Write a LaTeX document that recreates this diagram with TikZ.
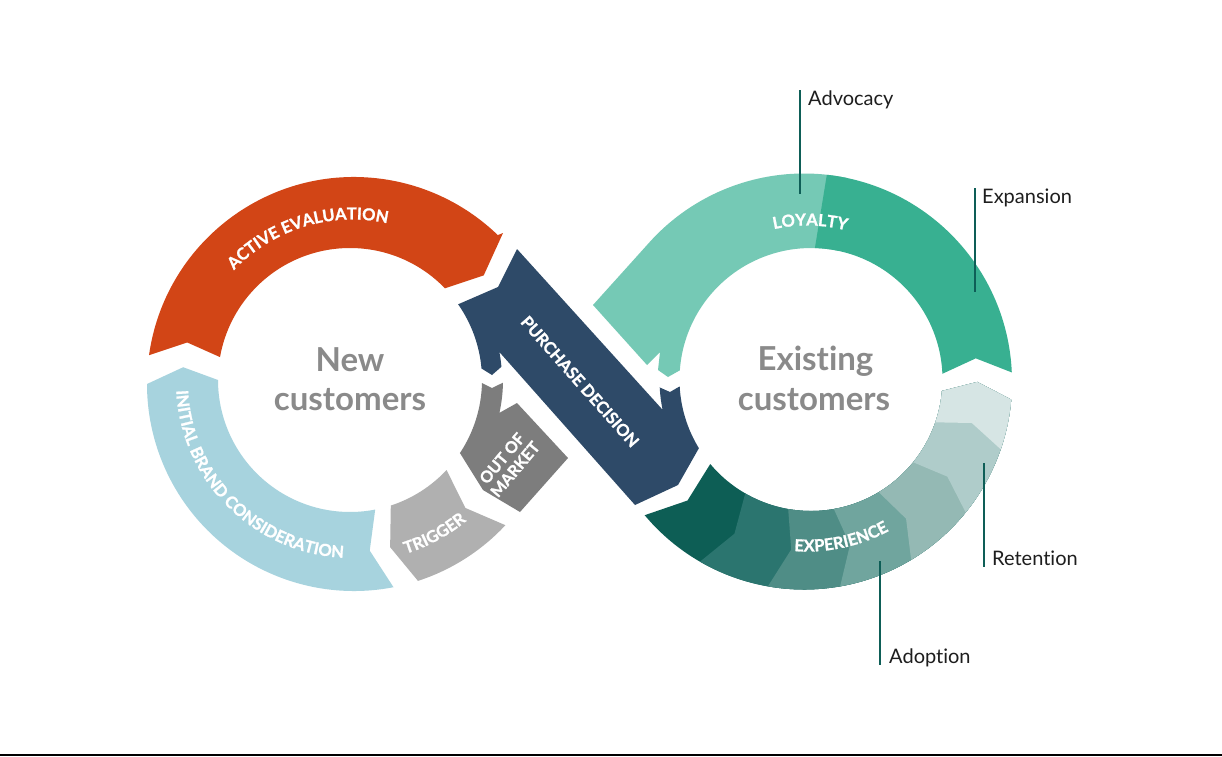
\documentclass[tikz,border=0pt]{standalone}
\usepackage{fontspec}
\setmainfont{Lato}[Ligatures=NoCommon]
\newfontfamily\labfont{Lato}[Ligatures=NoCommon,BoldFeatures={FakeBold=1.2}]
\usetikzlibrary{calc,decorations.text}
\definecolor{cOrange}{RGB}{210,69,22}
\definecolor{cBlue}{RGB}{167,211,222}
\definecolor{cTrig}{RGB}{176,176,176}
\definecolor{cOOM}{RGB}{125,125,125}
\definecolor{cNavy}{RGB}{46,74,104}
\definecolor{cLoy}{RGB}{117,201,181}
\definecolor{cExp}{RGB}{56,176,145}
\definecolor{eA}{RGB}{13,94,85}
\definecolor{eB}{RGB}{43,117,111}
\definecolor{eC}{RGB}{79,141,134}
\definecolor{eD}{RGB}{112,165,158}
\definecolor{eE}{RGB}{148,185,180}
\definecolor{eF}{RGB}{175,204,202}
\definecolor{eG}{RGB}{214,229,228}
\definecolor{cLine}{RGB}{14,94,87}
\definecolor{cCenter}{RGB}{138,138,138}
\definecolor{cLabel}{RGB}{30,30,30}
\newcommand\seglabfont{\labfont\bfseries\fontsize{16.5}{16.5}\selectfont}
% left loop segment: colour, start, end, tip offset, notch offset
\newcommand\lseg[5]{\fill[#1] ($(CLo)+(#2:207)$) arc[start angle=#2,end angle=#3,radius=207] -- ($(CLm)+({#3+#4}:169.5)$) -- ($(CLi)+(#3:132)$) arc[start angle=#3,end angle=#2,radius=132] -- ($(CLm)+({#2+#5}:169.5)$) -- cycle;}
% right loop segment
\newcommand\rseg[5]{\fill[#1] ($(CRo)+(#2:208)$) arc[start angle=#2,end angle=#3,radius=208] -- ($(CRm)+({#3+#4}:169.75)$) -- ($(CRi)+(#3:131.5)$) arc[start angle=#3,end angle=#2,radius=131.5] -- ($(CRm)+({#2+#5}:169.75)$) -- cycle;}
\begin{document}
\begin{tikzpicture}[x=1pt,y=1pt,
  seglabel/.style={text=white,font=\seglabfont,inner sep=0pt},
  centertext/.style={text=cCenter,font=\bfseries\fontsize{33}{33}\selectfont,inner sep=0pt,anchor=base},
  calltext/.style={text=cLabel,font=\fontsize{20}{20}\selectfont,inner sep=0pt,anchor=base west},
  callline/.style={draw=cLine,line width=2pt}]
\useasboundingbox (0,0) rectangle (1222,-756);
\fill[white] (0,0) rectangle (1222,-756);
\fill[black] (0,-753.5) rectangle (1222,-756);
\coordinate (CLi) at (350,-380);
\coordinate (CLo) at (354,-384);
\coordinate (CLm) at (352,-382);
\coordinate (CRi) at (811,-379.5);
\coordinate (CRo) at (804,-381.5);
\coordinate (CRm) at (807.5,-380.5);
% ---- left loop ----
\fill[cOrange] ($(CLo)+(172:207)$) arc[start angle=172,end angle=46,radius=207] -- (503,-233) -- ($(CLm)+(39:169.5)$) -- ($(CLi)+(44:132)$) arc[start angle=44,end angle=170,radius=132] -- ($(CLm)+(166.5:169.5)$) -- cycle;
\lseg{cBlue}{-79}{-180}{-5}{-5}
\lseg{cTrig}{-43}{-72}{-5}{-5}
\fill[cOOM] ($(CLi)+(-1.3:132)$) -- (492,-388) -- ($(CLi)+(-1:153)$) arc[start angle=-1,end angle=-12.4,radius=153] -- (517,-403) -- (568,-458) -- (520,-512) -- (483,-490) -- ($(CLi)+(-33.6:132)$) arc[start angle=-33.6,end angle=-1.3,radius=132] -- cycle;
% ---- right loop ----
\rseg{eA}{220}{355}{4.5}{5}
\rseg{eB}{240}{355}{4.5}{4.5}
\rseg{eC}{260}{355}{4.5}{4.5}
\rseg{eD}{280}{355}{4.5}{4.5}
\rseg{eE}{301}{355}{4.5}{4.5}
\rseg{eF}{321}{355}{4.5}{4.5}
\rseg{eG}{341}{355}{4.5}{4.5}
\fill[cLoy] ($(CRo)+(78:208)$) arc[start angle=78,end angle=138,radius=208] -- (593,-305) -- (647,-365) -- (660,-352) -- (658,-370) -- (668,-377) -- ($(CRi)+(176:131.5)$) arc[start angle=176,end angle=78,radius=131.5] -- cycle;
\fill[cExp] ($(CRo)+(2.5:208)$) arc[start angle=2.5,end angle=83.7,radius=208] -- ($(CRi)+(88.3:131.5)$) arc[start angle=88.3,end angle=2.5,radius=131.5] -- ($(CRm)+(7.5:169.75)$) -- cycle;
% ---- purchase decision ----
\fill[cNavy] (517,-249) -- (498,-287) -- ($(CLi)+(35:132)$) arc[start angle=35,end angle=5,radius=132] -- (492,-375) -- ($(CLi)+(5:152)$) arc[start angle=5,end angle=10.6,radius=152] -- (635,-505) -- (678,-485) -- ($(CRi)+(211.5:131.5)$) arc[start angle=211.5,end angle=183,radius=131.5] -- (670,-392) -- ($(CRi)+(183:151.5)$) arc[start angle=183,end angle=191.5,radius=151.5] -- cycle;
% ---- stage labels ----
\path[decorate,decoration={text along path,text={|\seglabfont|ACTIVE EVALUATION},text align=center,text color=white}] ($(CLm)+(147:162.5)$) arc[start angle=147,end angle=67,radius=162.5];
\path[decorate,decoration={text along path,text={|\seglabfont|INITIAL BRAND CONSIDERATION},text align=center,text color=white}] ($(CLm)+(150:176)$) arc[start angle=150,end angle=300,radius=176];
\path[decorate,decoration={text along path,text={|\seglabfont|TRIGGER},text align=center,text color=white}] ($(CLm)+(-100:180)$) arc[start angle=-100,end angle=-23,radius=180];
\path[decorate,decoration={text along path,text={|\seglabfont|LOYALTY},text align=center,text color=white}] ($(CRm)+(129:155)$) arc[start angle=129,end angle=49,radius=155];
\path[decorate,decoration={text along path,text={|\seglabfont|EXPERIENCE},text align=center,text color=white}] ($(CRm)+(232:171)$) arc[start angle=232,end angle=332,radius=171];
\node[seglabel,rotate=-48.5] (pd) at (580,-381.5) {PURCHASE DECISION};
\node[seglabel,rotate=50,align=center,font=\labfont\bfseries\fontsize{16}{17}\selectfont] (oom) at (508.5,-463.7) {OUT OF\\MARKET};
% ---- centre texts ----
\node[centertext] (new) at (350,-371.5) {New};
\node[centertext] (cust1) at (350,-410) {customers};
\node[centertext] (exist) at (815.5,-370) {Existing};
\node[centertext] (cust2) at (814,-410) {customers};
% ---- callouts ----
\coordinate (advT) at (800,-90);
\coordinate (advB) at (800,-194);
\coordinate (expT) at (975,-188);
\coordinate (expB) at (975,-292);
\coordinate (retT) at (984,-463);
\coordinate (retB) at (984,-567);
\coordinate (adoT) at (880,-561);
\coordinate (adoB) at (880,-665);
\draw[callline] (advT) -- (advB);
\draw[callline] (expT) -- (expB);
\draw[callline] (retT) -- (retB);
\draw[callline] (adoT) -- (adoB);
\node[calltext] (adv) at (808,-105.5) {Advocacy};
\node[calltext] (expn) at (982,-203) {Expansion};
\node[calltext] (ret) at (992,-565) {Retention};
\node[calltext] (ado) at (889,-663) {Adoption};
\end{tikzpicture}
\end{document}
